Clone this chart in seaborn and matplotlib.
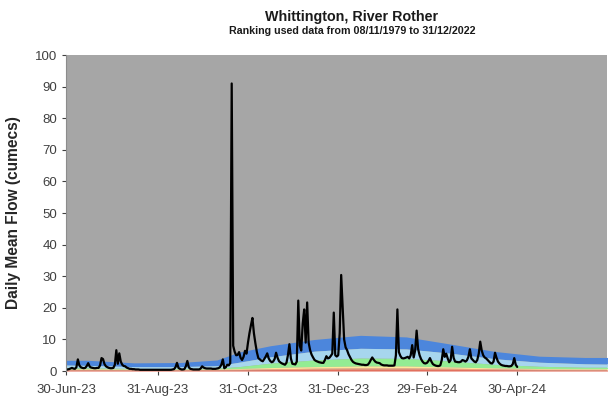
import numpy as np
import pandas as pd
import matplotlib
matplotlib.use("Agg")
import matplotlib.pyplot as plt
import matplotlib.dates as mdates
import seaborn as sns

# daily mean flow (cumecs), 30-Jun-23 onwards
flow = [
    0.4, 0.5, 0.6, 0.8, 1.0, 0.8, 0.7, 1.2, 3.7, 1.8,
    1.2, 1.0, 0.9, 1.0, 1.6, 2.5, 1.4, 1.1, 1.0, 0.9,
    0.9, 1.0, 1.0, 1.8, 4.1, 3.8, 2.2, 1.5, 1.2, 1.0,
    0.9, 0.9, 1.0, 2.0, 6.6, 2.3, 5.6, 3.0, 2.0, 1.6,
    1.5, 1.1, 0.9, 0.7, 0.7, 0.6, 0.6, 0.5, 0.5, 0.5,
    0.4, 0.4, 0.4, 0.4, 0.4, 0.4, 0.4, 0.4, 0.4, 0.4,
    0.4, 0.4, 0.4, 0.4, 0.4, 0.4, 0.4, 0.4, 0.4, 0.4,
    0.4, 0.4, 0.5, 0.6, 1.2, 2.6, 1.0, 0.7, 0.5, 0.5,
    0.6, 1.5, 3.2, 1.2, 0.7, 0.6, 0.5, 0.5, 0.5, 0.5,
    0.5, 0.8, 1.5, 1.1, 0.9, 0.8, 0.8, 0.8, 0.8, 0.7,
    0.7, 0.7, 0.8, 0.9, 1.2, 2.0, 3.7, 0.9, 1.2, 2.0,
    1.8, 2.5, 91.0, 8.0, 6.1, 5.0, 5.1, 6.0, 4.2, 3.5,
    4.5, 6.4, 5.5, 9.0, 12.0, 14.5, 16.8, 12.0, 8.8, 6.0,
    4.1, 3.7, 3.3, 3.1, 3.8, 4.6, 5.6, 4.0, 3.2, 2.8,
    3.0, 3.8, 5.8, 4.2, 3.1, 2.7, 2.4, 2.2, 2.0, 2.6,
    5.0, 8.5, 4.0, 2.3, 2.2, 2.1, 3.0, 22.3, 8.0, 6.5,
    15.0, 19.5, 9.0, 21.7, 9.0, 6.6, 5.2, 4.3, 3.5, 3.2,
    3.0, 2.8, 2.7, 2.6, 2.6, 3.5, 4.7, 4.0, 4.2, 4.8,
    5.5, 18.5, 5.0, 4.6, 5.0, 12.0, 30.4, 20.0, 10.0, 7.5,
    6.6, 5.3, 4.4, 3.5, 2.9, 2.6, 2.4, 2.3, 2.2, 2.1,
    2.0, 2.0, 1.9, 1.9, 2.0, 2.6, 3.5, 4.3, 3.6, 3.0,
    2.7, 2.6, 2.5, 2.1, 1.9, 1.8, 1.8, 1.8, 1.7, 1.7,
    1.7, 1.7, 1.8, 5.0, 19.5, 6.0, 4.8, 4.1, 4.0, 4.1,
    4.3, 4.5, 4.0, 5.0, 8.2, 4.3, 6.5, 12.8, 7.0, 5.0,
    3.8, 3.0, 2.5, 2.4, 2.6, 3.2, 4.1, 3.0, 2.2, 1.9,
    1.7, 1.6, 1.6, 1.8, 3.5, 6.9, 4.5, 5.5, 4.0, 2.8,
    3.5, 7.7, 4.2, 3.0, 2.9, 2.8, 2.8, 3.0, 3.5, 3.3,
    3.0, 3.4, 4.5, 6.9, 4.0, 3.5, 3.0, 2.8, 3.5, 5.5,
    9.3, 6.5, 5.0, 4.3, 4.0, 3.5, 3.0, 2.5, 2.4, 3.0,
    5.8, 4.2, 3.0, 2.4, 2.0, 1.8, 1.7, 1.6, 1.6, 1.5,
    1.5, 1.6, 2.2, 4.1, 2.0, 1.3,
]

# flow ranking bands (upper edges), read at roughly monthly dates
band_dates = ["2023-06-30", "2023-07-15", "2023-08-15", "2023-09-15", "2023-10-10",
              "2023-10-25", "2023-11-15", "2023-12-15", "2024-01-15", "2024-02-15",
              "2024-03-15", "2024-04-15", "2024-05-15", "2024-06-15", "2024-06-30"]
blue_top = [3.4, 3.4, 2.6, 2.7, 3.5, 6.0, 8.0, 10.0, 11.3, 10.8, 8.6, 6.2, 4.7, 4.3, 4.3]
lblue_top = [1.9, 1.8, 1.4, 1.4, 1.7, 2.8, 4.5, 6.3, 7.2, 7.0, 5.7, 3.9, 2.8, 2.3, 2.2]
green_top = [1.0, 1.0, 0.8, 0.8, 0.9, 1.4, 2.5, 3.5, 4.1, 4.0, 3.2, 2.1, 1.5, 1.2, 1.2]
yellow_top = [0.7, 0.7, 0.6, 0.6, 0.65, 0.8, 1.1, 1.4, 1.6, 1.6, 1.3, 1.0, 0.8, 0.7, 0.7]
orange_top = [0.5, 0.5, 0.45, 0.45, 0.5, 0.55, 0.7, 0.9, 1.0, 1.0, 0.9, 0.7, 0.55, 0.5, 0.5]
red_top = [0.3, 0.3, 0.28, 0.28, 0.3, 0.35, 0.45, 0.55, 0.6, 0.6, 0.55, 0.45, 0.35, 0.3, 0.3]

tick_dates = ["2023-06-30", "2023-08-31", "2023-10-31", "2023-12-31", "2024-02-29", "2024-04-30"]

df = pd.DataFrame({"date": pd.date_range("2023-06-30", periods=len(flow), freq="D"),
                   "flow": flow})
bands = pd.DataFrame({"date": pd.to_datetime(band_dates), "blue": blue_top,
                      "lblue": lblue_top, "green": green_top, "yellow": yellow_top,
                      "orange": orange_top, "red": red_top})

sns.set_style("white")
plt.rcParams["font.family"] = ["Liberation Sans", "DejaVu Sans"]

fig = plt.figure(figsize=(6.08, 3.96), dpi=100)
ax = fig.add_axes([0.1086, 0.063, 0.8905, 0.798])
ax.set_facecolor("#A6A6A6")

layers = [("blue", "lblue", "#4C86DC"), ("lblue", "green", "#A7D6EE"),
          ("green", "yellow", "#93EC93"), ("yellow", "orange", "#FFE89A"),
          ("orange", "red", "#F2A77E"), ("red", None, "#E2705E")]
for top, bottom, color in layers:
    lower = bands[bottom] if bottom else 0
    ax.fill_between(bands["date"], lower, bands[top], color=color, linewidth=0)

sns.lineplot(data=df, x="date", y="flow", ax=ax, color="black", linewidth=1.6)

ax.set_xlim(pd.Timestamp("2023-06-30"), pd.Timestamp("2024-06-30"))
ax.set_ylim(0, 100)
ax.set_yticks(range(0, 101, 10))
ax.set_xticks(pd.to_datetime(tick_dates))
ax.xaxis.set_major_formatter(mdates.DateFormatter("%d-%b-%y"))
ax.tick_params(axis="both", labelsize=9.5, colors="#404040", length=3,
               direction="out", left=True, bottom=True)
ax.tick_params(axis="x", pad=6)

for side in ["top", "right", "bottom"]:
    ax.spines[side].set_visible(False)
ax.spines["left"].set_color("#8C8C8C")

ax.set_xlabel("")
ax.set_ylabel("Daily Mean Flow (cumecs)", fontsize=11.2, fontweight="bold",
              color="#262626", labelpad=10)

fig.text(0.579, 0.958, "Whittington, River Rother", ha="center", va="center",
         fontsize=10.3, fontweight="bold", color="#1a1a1a")
fig.text(0.579, 0.922, "Ranking used data from 08/11/1979 to 31/12/2022", ha="center",
         va="center", fontsize=7.7, fontweight="bold", color="#1a1a1a")

fig.savefig("out.png", dpi=100)
